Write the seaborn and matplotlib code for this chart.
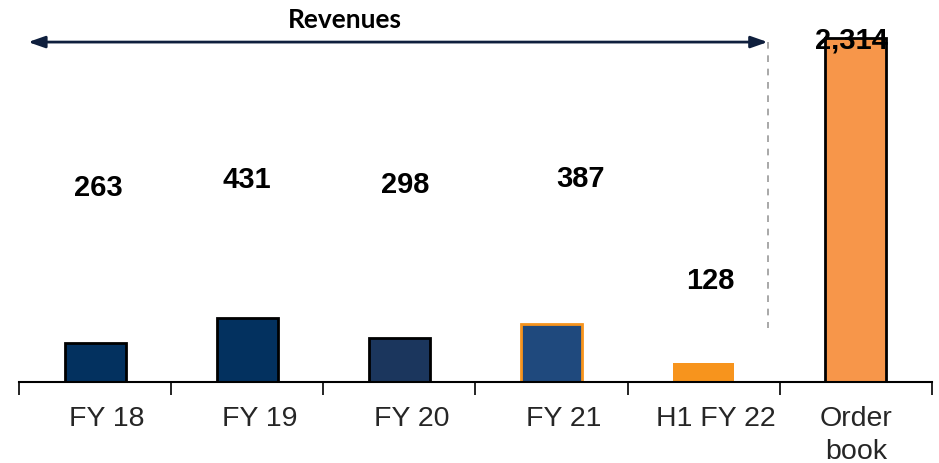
import matplotlib
matplotlib.use("Agg")
import matplotlib.pyplot as plt
import matplotlib.transforms as mtransforms
import seaborn as sns
import pandas as pd

categories = ["FY 18", "FY 19", "FY 20", "FY 21", "H1 FY 22", "Order\nbook"]
values = [263, 431, 298, 387, 128, 2314]
value_labels = ["263", "431", "298", "387", "128", "2,314"]
# label positions (style): x offsets in category units, y in data units
label_x = [0.02, 1.0, 2.04, 3.19, 4.04, 4.97]
label_y = [1305, 1359, 1325, 1366, 680, 2300]

fill_colors = ["#03315f", "#03315f", "#1b365d", "#1f497d", "#f7941d", "#f7964a"]
edge_colors = ["#000000", "#000000", "#000000", "#f7941d", "none", "#000000"]

sns.set_style("white")
plt.rcParams["font.family"] = ["Liberation Sans", "DejaVu Sans"]

df = pd.DataFrame({"cat": categories, "val": values})

fig = plt.figure(figsize=(9.39, 4.63), dpi=100)
ax = fig.add_axes([19/939, 1-382/463, 913/939, 382/463])
sns.barplot(data=df, x="cat", y="val", hue="cat", palette=fill_colors,
            legend=False, width=0.4, ax=ax, saturation=1)
for p, ec in zip(ax.patches, edge_colors):
    if ec == "none":
        p.set_edgecolor("none")
        p.set_linewidth(0)
    else:
        p.set_edgecolor(ec)
        p.set_linewidth(2.0)

ax.set_xlim(-0.5, 5.5)
ax.set_ylim(0, 2570)
for s in ["top", "left", "right"]:
    ax.spines[s].set_visible(False)
ax.spines["bottom"].set_color("black")
ax.spines["bottom"].set_linewidth(1.5)
ax.set_yticks([])
ax.set_xlabel("")
ax.set_ylabel("")
ax.set_xticks(range(len(categories)))
ax.set_xticklabels(categories, fontsize=20.5, linespacing=1.35)
ax.tick_params(axis="x", which="major", length=0, pad=17)
ax.set_xticks([i - 0.5 for i in range(len(categories) + 1)], minor=True)
ax.tick_params(axis="x", which="minor", length=9, width=1.2, color="black", direction="out")
ax.tick_params(axis="x", which="minor", bottom=True)

# the reference's single-line labels sit slightly right of bar centres
shift = mtransforms.ScaledTranslation(0.12, 0, fig.dpi_scale_trans)
for lbl in ax.get_xticklabels()[:5]:
    lbl.set_transform(lbl.get_transform() + shift)

for x, y, t in zip(label_x, label_y, value_labels):
    ax.text(x, y, t, ha="center", va="center", fontsize=21, fontweight="bold", color="black")

# Revenues arrow
ax.annotate("", xy=(-0.44, 2287), xytext=(4.42, 2287),
            arrowprops=dict(arrowstyle="<|-|>,head_length=1.0,head_width=0.35", color="#0f1f3d",
                            lw=2, shrinkA=0, shrinkB=0), annotation_clip=False)
ax.plot([4.42, 4.42], [2287, 363], ls=(0, (4, 4)), color="#999999", lw=1.2)
ax.text(1.64, 2435, "Revenues", ha="center", va="center", fontsize=19, fontweight="bold",
        color="black", family=["Lato", "DejaVu Sans"])

fig.savefig("out.png", dpi=100)
